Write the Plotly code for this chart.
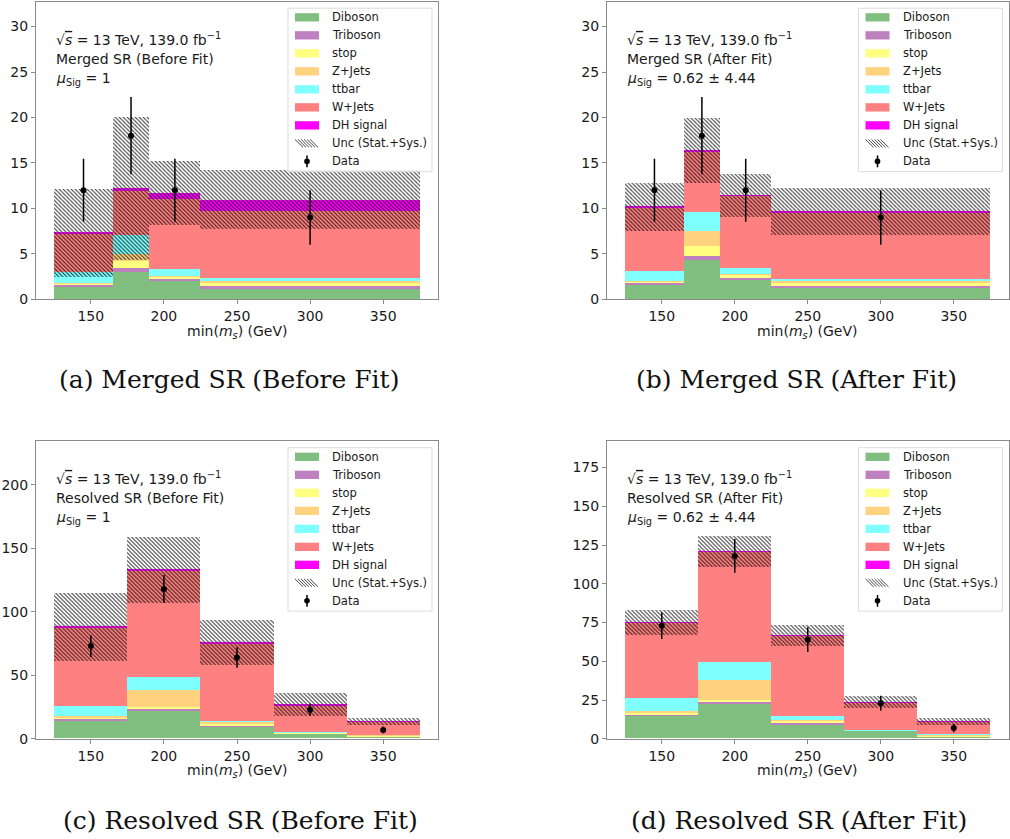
import plotly.graph_objects as go

FIG_W, FIG_H = 1010, 839

PROCESSES = ["Diboson", "Triboson", "stop", "Z+Jets", "ttbar", "W+Jets", "DH signal"]
PROC_COLORS = {
    "Diboson": "#80bf80",
    "Triboson": "#bf80bf",
    "stop": "#ffff80",
    "Z+Jets": "#ffd280",
    "ttbar": "#80ffff",
    "W+Jets": "#ff8080",
    "DH signal": "#ff00ff",
}

# Bin edges of min(m_s) in GeV
merged_edges = [125, 165, 190, 225, 375]
resolved_edges = [125, 175, 225, 275, 325, 375]

# Expected yields per bin, one list per process
merged_prefit = {
    "Diboson":   [1.41, 3.05, 2.07, 1.15],
    "Triboson":  [0.25, 0.39, 0.17, 0.30],
    "stop":      [0.11, 0.80, 0.30, 0.35],
    "Z+Jets":    [0.03, 0.80, 0.04, 0.27],
    "ttbar":     [1.25, 1.99, 0.75, 0.25],
    "W+Jets":    [4.16, 4.90, 7.69, 7.43],
    "DH signal": [0.11, 0.29, 0.66, 1.20],
}
merged_prefit_unc = [4.80, 7.88, 3.52, 3.25]

merged_postfit = {
    "Diboson":   [1.59, 4.31, 2.17, 1.23],
    "Triboson":  [0.22, 0.51, 0.18, 0.25],
    "stop":      [0.15, 1.09, 0.44, 0.33],
    "Z+Jets":    [0.04, 1.63, 0.06, 0.22],
    "ttbar":     [1.08, 2.03, 0.59, 0.21],
    "W+Jets":    [7.07, 6.73, 7.98, 7.33],
    "DH signal": [0.02, 0.03, 0.03, 0.11],
}
merged_postfit_unc = [2.63, 3.57, 2.39, 2.60]

resolved_prefit = {
    "Diboson":   [14.5, 22.3, 9.1, 3.9, 1.6],
    "Triboson":  [1.1, 1.1, 0.8, 0.3, 0.2],
    "stop":      [0.8, 1.3, 2.0, 0.3, 0.5],
    "Z+Jets":    [1.3, 13.7, 1.1, 0.2, 0.6],
    "ttbar":     [7.8, 9.9, 0.8, 0.2, 0.2],
    "W+Jets":    [61.5, 83.6, 61.0, 21.1, 9.9],
    "DH signal": [0.8, 0.8, 0.8, 0.5, 0.2],
}
resolved_prefit_unc = [26.5, 26.0, 17.9, 9.1, 2.6]

resolved_postfit = {
    "Diboson":   [14.7, 22.6, 9.2, 4.9, 1.3],
    "Triboson":  [0.6, 1.0, 0.6, 0.1, 0.1],
    "stop":      [1.3, 1.5, 1.5, 0.1, 0.5],
    "Z+Jets":    [1.1, 12.8, 0.6, 0.1, 0.7],
    "ttbar":     [8.5, 11.7, 2.4, 0.1, 0.2],
    "W+Jets":    [48.7, 70.9, 51.9, 18.1, 8.3],
    "DH signal": [0.1, 0.1, 0.1, 0.05, 0.05],
}
resolved_postfit_unc = [8.0, 9.8, 6.8, 3.8, 2.3]

# Observed events with Poisson errors
merged_data = [12, 18, 12, 9]
merged_data_err = [3.46, 4.24, 3.46, 3.00]
resolved_data = [73, 118, 64, 23, 7]
resolved_data_err = [8.54, 10.86, 8.00, 4.80, 2.65]

x_ticks = [150, 200, 250, 300, 350]
merged_y_ticks = [0, 5, 10, 15, 20, 25, 30]
resolved_prefit_y_ticks = [0, 50, 100, 150, 200]
resolved_postfit_y_ticks = [0, 25, 50, 75, 100, 125, 150, 175]

energy_label = ("√<span style=\"text-decoration:overline\"><i>s</i></span>"
                " = 13 TeV, 139.0 fb<sup>−1</sup>")
mu_prefit = "<i>μ</i><sub>Sig</sub> = 1"
mu_postfit = "<i>μ</i><sub>Sig</sub> = 0.62 ± 4.44"

# Panel boxes in pixels: left, right, top, bottom
panels = [
    dict(box=(36, 438, 2, 302.3), edges=merged_edges, yields=merged_prefit,
         unc=merged_prefit_unc, data=merged_data, err=merged_data_err,
         ymax=32.7, yticks=merged_y_ticks, region="Merged SR (Before Fit)",
         mu=mu_prefit, caption="(a) Merged SR (Before Fit)", cap_xy=(229, 383)),
    dict(box=(607, 1008.5, 2, 302.3), edges=merged_edges, yields=merged_postfit,
         unc=merged_postfit_unc, data=merged_data, err=merged_data_err,
         ymax=32.7, yticks=merged_y_ticks, region="Merged SR (After Fit)",
         mu=mu_postfit, caption="(b) Merged SR (After Fit)", cap_xy=(796, 383)),
    dict(box=(36, 438, 445.7, 746), edges=resolved_edges, yields=resolved_prefit,
         unc=resolved_prefit_unc, data=resolved_data, err=resolved_data_err,
         ymax=234.0, yticks=resolved_prefit_y_ticks, region="Resolved SR (Before Fit)",
         mu=mu_prefit, caption="(c) Resolved SR (Before Fit)", cap_xy=(240, 828)),
    dict(box=(607, 1008.5, 445.7, 746), edges=resolved_edges, yields=resolved_postfit,
         unc=resolved_postfit_unc, data=resolved_data, err=resolved_data_err,
         ymax=191.8, yticks=resolved_postfit_y_ticks, region="Resolved SR (After Fit)",
         mu=mu_postfit, caption="(d) Resolved SR (After Fit)", cap_xy=(799, 828)),
]

FONT = "DejaVu Sans"
TEXT_COLOR = "#1a1a1a"
SPINE = "#8a8a8a"
HATCH = "rgba(0,0,0,0.72)"


def px(x):
    return x / FIG_W


def py(y):
    return 1 - y / FIG_H


fig = go.Figure()
shapes = []
annotations = []

for i, p in enumerate(panels):
    sfx = "" if i == 0 else str(i + 1)
    xa, ya = "x" + sfx, "y" + sfx
    edges = p["edges"]
    centers = [(a + b) / 2 for a, b in zip(edges[:-1], edges[1:])]
    widths = [b - a for a, b in zip(edges[:-1], edges[1:])]

    # stacked backgrounds + signal
    base = [0.0] * len(centers)
    for proc in PROCESSES:
        vals = p["yields"][proc]
        fig.add_trace(go.Bar(
            x=centers, y=vals, base=list(base), width=widths,
            marker=dict(color=PROC_COLORS[proc], line=dict(width=0)),
            xaxis=xa, yaxis=ya, showlegend=False, hoverinfo="skip",
        ))
        base = [b + v for b, v in zip(base, vals)]
    total = base

    # total uncertainty band (hatched)
    fig.add_trace(go.Bar(
        x=centers, y=[2 * u for u in p["unc"]],
        base=[t - u for t, u in zip(total, p["unc"])], width=widths,
        marker=dict(color="rgba(0,0,0,0)", line=dict(width=0),
                    pattern=dict(shape="\\", fgcolor=HATCH, bgcolor="rgba(0,0,0,0)",
                                 size=2.8285, solidity=0.37, fillmode="replace")),
        xaxis=xa, yaxis=ya, showlegend=False, hoverinfo="skip",
    ))

    # data
    fig.add_trace(go.Scatter(
        x=centers, y=p["data"], mode="markers",
        marker=dict(color="black", size=6),
        error_y=dict(type="data", array=p["err"], color="black", thickness=1.5, width=0),
        xaxis=xa, yaxis=ya, showlegend=False, hoverinfo="skip",
    ))

    left, right, top, bottom = p["box"]
    axis_common = dict(
        showline=True, linecolor=SPINE, linewidth=1, mirror=True,
        ticks="outside", ticklen=4, tickwidth=1, tickcolor=SPINE,
        showgrid=False, zeroline=False,
        tickfont=dict(family=FONT, size=14, color=TEXT_COLOR),
    )
    fig.update_layout(**{
        "xaxis" + sfx: dict(domain=[px(left), px(right)], range=[112.5, 387.5],
                            anchor=ya, tickvals=x_ticks, **axis_common),
        "yaxis" + sfx: dict(domain=[py(bottom), py(top)], range=[0, p["ymax"]],
                            anchor=xa, tickvals=p["yticks"], **axis_common),
    })

    # x-axis title
    annotations.append(dict(
        x=px((left + right) / 2), y=py(bottom + 32.5), xref="paper", yref="paper",
        text="min(<i>m<sub>s</sub></i>) (GeV)", showarrow=False,
        font=dict(family=FONT, size=14, color=TEXT_COLOR), xanchor="center", yanchor="middle",
    ))

    # info text
    for k, line in enumerate([energy_label, p["region"], p["mu"]]):
        annotations.append(dict(
            x=px(left + 18.3), y=py(top + 37.3 + 20 * k), xref="paper", yref="paper",
            text=line, showarrow=False, font=dict(family=FONT, size=14, color=TEXT_COLOR),
            xanchor="left", yanchor="middle",
        ))

    # caption
    cx, cy = p["cap_xy"]
    annotations.append(dict(
        x=px(cx), y=py(cy), xref="paper", yref="paper", text=p["caption"],
        showarrow=False, font=dict(family="DejaVu Serif", size=25, color="#111111"),
        xanchor="center", yanchor="middle",
    ))

    # legend box
    bx1 = right - 6
    bx0 = bx1 - 144
    by0 = top + 6.3
    by1 = top + 171.3
    shapes.append(dict(type="rect", xref="paper", yref="paper",
                       x0=px(bx0), x1=px(bx1), y0=py(by1), y1=py(by0),
                       line=dict(color="#dddddd", width=1), fillcolor="rgba(255,255,255,0.8)",
                       layer="above"))
    labels = PROCESSES + ["Unc (Stat.+Sys.)", "Data"]
    sx0, sx1 = bx0 + 7, bx0 + 31
    for k, lab in enumerate(labels):
        yc = top + 15.5 + 18.18 * k
        if k < len(PROCESSES):
            shapes.append(dict(type="rect", xref="paper", yref="paper",
                               x0=px(sx0), x1=px(sx1), y0=py(yc + 4.2), y1=py(yc - 4.2),
                               line=dict(width=0), fillcolor=PROC_COLORS[lab], layer="above"))
        elif lab.startswith("Unc"):
            for j in range(6):
                xs = sx0 + 3 * j
                shapes.append(dict(type="line", xref="paper", yref="paper",
                                   x0=px(xs), x1=px(xs + 8), y0=py(yc - 4), y1=py(yc + 4),
                                   line=dict(color=HATCH, width=1), layer="above"))
        else:
            xm = (sx0 + sx1) / 2
            shapes.append(dict(type="line", xref="paper", yref="paper",
                               x0=px(xm), x1=px(xm), y0=py(yc - 6), y1=py(yc + 6),
                               line=dict(color="black", width=1.5), layer="above"))
            shapes.append(dict(type="circle", xref="paper", yref="paper",
                               x0=px(xm - 2.8), x1=px(xm + 2.8), y0=py(yc + 2.8), y1=py(yc - 2.8),
                               line=dict(width=0), fillcolor="black", layer="above"))
        annotations.append(dict(
            x=px(bx0 + 42), y=py(yc), xref="paper", yref="paper", text=lab,
            showarrow=False, font=dict(family=FONT, size=11.5, color=TEXT_COLOR),
            xanchor="left", yanchor="middle",
        ))

fig.update_layout(
    width=FIG_W, height=FIG_H, margin=dict(l=0, r=0, t=0, b=0),
    paper_bgcolor="white", plot_bgcolor="white",
    barmode="overlay", bargap=0, showlegend=False,
    shapes=shapes, annotations=annotations,
    font=dict(family=FONT, color=TEXT_COLOR),
)

fig.write_html("out.html")
